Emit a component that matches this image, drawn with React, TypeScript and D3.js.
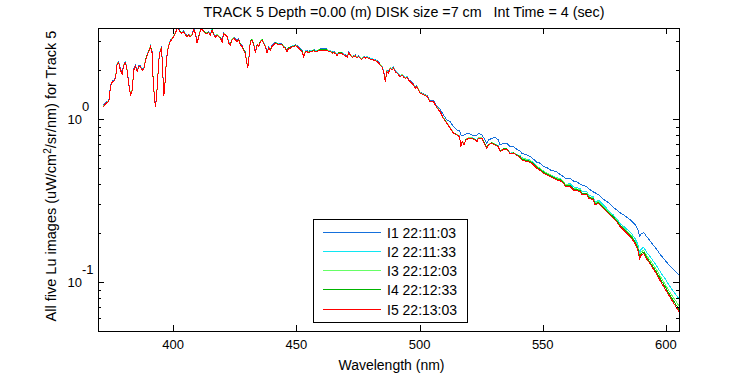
import React from 'react';
import * as d3 from 'd3';

const wavelength = [
371.5,373.0,373.9,374.6,375.3,375.9,376.6,377.3,377.9,378.6,
379.3,380.0,380.7,381.3,382.0,382.7,383.4,384.0,384.7,385.4,
386.1,386.7,387.4,388.1,388.8,389.5,390.1,390.8,391.5,391.9,
392.5,392.9,393.5,394.2,394.8,395.3,395.8,396.2,396.6,397.2,
397.8,398.5,399.3,400.2,400.9,401.6,402.3,403.0,403.6,404.3,
405.0,405.7,406.3,407.0,407.7,408.4,409.0,409.7,410.4,411.1,
411.8,412.4,413.1,413.8,414.4,415.1,415.8,416.5,417.2,417.8,
418.5,419.2,419.9,420.5,421.2,421.9,422.6,423.2,423.9,424.6,
425.3,425.9,426.6,427.3,428.0,428.6,429.3,429.7,430.3,430.8,
431.3,432.0,432.7,433.4,434.1,434.7,435.4,436.1,436.8,437.4,
438.1,438.8,439.5,440.1,440.8,441.5,442.2,442.8,443.5,444.2,
444.9,445.5,446.2,446.9,447.6,448.3,448.9,449.6,450.3,450.9,
451.6,452.3,453.0,453.7,454.3,455.0,455.7,456.4,457.0,457.7,
458.4,459.0,459.7,461.1,462.4,463.1,463.8,464.5,465.1,465.8,
466.5,467.2,467.8,468.5,469.2,469.9,470.6,471.2,471.9,472.6,
473.2,473.9,474.6,475.3,475.9,476.6,477.3,478.0,478.6,479.3,
480.0,480.7,481.3,482.0,482.7,483.4,484.0,484.7,485.4,486.1,
486.7,487.4,488.1,488.8,489.4,490.1,490.8,491.5,492.2,492.9,
493.5,494.2,494.9,495.5,496.2,497.6,498.3,498.9,500.3,501.7,
503.0,504.3,
505.7,507.1,508.4,509.7,511.1,512.4,513.8,515.2,516.2,516.8,
517.3,518.1,518.8,519.9,521.2,522.6,523.3,523.9,525.3,526.6,
527.3,528.0,529.3,530.7,532.0,532.7,534.1,535.4,536.8,538.1,
539.5,540.9,541.5,543.6,544.9,546.2,547.6,549.0,550.3,551.7,
553.0,554.3,555.7,557.0,558.4,559.1,561.1,562.5,563.8,565.2,
565.9,567.9,568.6,570.6,571.2,572.6,574.0,575.3,576.6,578.7,
580.0,581.4,583.0,584.5,586.0,587.5,588.6,589.3,590.0,591.0,
592.0,593.5,595.0,596.5,598.0,599.5,601.0,602.5,604.0,605.3
];

const luI1 = [
1.21,1.28,1.30,1.61,1.72,1.72,1.80,2.24,2.25,2.03,
1.93,2.18,2.25,2.03,1.64,1.43,1.53,2.03,2.13,1.99,
2.13,2.13,2.03,2.06,2.34,2.51,2.64,2.83,2.58,1.72,
1.33,1.21,1.57,2.34,2.70,2.77,1.95,1.40,1.61,2.24,
2.70,2.97,3.11,3.25,3.41,3.65,3.57,3.44,3.41,3.49,
3.33,3.25,3.33,3.25,3.33,3.57,3.41,2.97,3.25,3.57,
3.60,3.49,3.41,3.41,3.44,3.33,3.57,3.33,3.23,3.33,
3.25,3.18,3.03,3.38,3.33,3.25,2.97,2.90,3.11,3.18,
3.11,3.03,3.11,2.90,2.83,2.70,2.58,2.34,2.09,2.45,
3.03,3.11,2.90,2.58,2.90,2.83,3.03,3.11,2.94,2.83,
2.58,2.77,2.70,2.83,2.90,2.97,2.94,2.90,2.90,2.90,
2.81,2.77,2.64,2.77,2.77,2.83,2.83,2.86,2.83,2.77,
2.70,2.64,2.45,2.64,2.64,2.60,2.64,2.64,2.68,2.64,
2.64,2.68,2.70,2.70,2.70,2.64,2.64,2.58,2.60,2.58,
2.48,2.58,2.58,2.58,2.51,2.48,2.43,2.58,2.51,2.43,
2.45,2.48,2.40,2.45,2.40,2.36,2.43,2.40,2.43,2.40,
2.36,2.36,2.34,2.32,2.29,2.24,2.18,2.13,1.99,1.72,
1.99,1.95,2.09,2.03,2.09,1.99,1.95,1.90,1.85,1.90,
1.85,1.80,1.84,1.76,1.72,1.64,1.57,1.61,1.46,1.43,
1.40,1.30,
1.30,1.20,1.15,1.06,0.990,0.967,0.900,0.860,0.850,0.800,
0.800,0.800,0.810,0.820,0.800,0.800,0.800,0.820,0.800,0.746,
0.713,0.746,0.764,0.776,0.746,0.696,0.713,0.713,0.680,0.679,
0.655,0.635,0.619,0.604,0.590,0.570,0.545,0.537,0.512,0.505,
0.489,0.482,0.477,0.458,0.445,0.434,0.434,0.418,0.412,0.400,
0.395,0.386,0.375,0.358,0.354,0.345,0.328,0.318,0.308,0.288,
0.278,0.267,0.258,0.248,0.238,0.225,0.212,0.192,0.198,0.202,
0.192,0.180,0.168,0.157,0.146,0.137,0.129,0.122,0.116,0.111
];

const luI2 = [
1.20,1.27,1.29,1.60,1.71,1.71,1.79,2.23,2.24,2.02,
1.92,2.17,2.24,2.02,1.63,1.42,1.52,2.02,2.12,1.98,
2.12,2.12,2.02,2.05,2.33,2.50,2.63,2.82,2.57,1.71,
1.32,1.20,1.56,2.33,2.69,2.76,1.94,1.39,1.60,2.23,
2.69,2.96,3.10,3.24,3.40,3.64,3.56,3.43,3.40,3.48,
3.32,3.24,3.32,3.24,3.32,3.56,3.40,2.96,3.24,3.56,
3.59,3.48,3.40,3.40,3.43,3.32,3.56,3.32,3.22,3.32,
3.24,3.17,3.02,3.37,3.32,3.24,2.96,2.89,3.10,3.17,
3.10,3.02,3.10,2.89,2.82,2.69,2.57,2.33,2.08,2.44,
3.02,3.10,2.89,2.57,2.89,2.82,3.02,3.10,2.93,2.82,
2.57,2.76,2.69,2.82,2.89,2.96,2.93,2.89,2.89,2.89,
2.80,2.76,2.63,2.76,2.76,2.82,2.82,2.85,2.82,2.76,
2.69,2.63,2.44,2.63,2.63,2.59,2.63,2.63,2.67,2.63,
2.63,2.67,2.69,2.69,2.69,2.63,2.63,2.57,2.59,2.57,
2.47,2.57,2.57,2.57,2.50,2.47,2.42,2.57,2.50,2.42,
2.44,2.47,2.39,2.44,2.39,2.35,2.42,2.39,2.42,2.39,
2.35,2.35,2.33,2.31,2.28,2.23,2.17,2.12,1.98,1.71,
1.98,1.94,2.08,2.02,2.08,1.98,1.94,1.89,1.84,1.89,
1.84,1.79,1.83,1.75,1.71,1.63,1.56,1.60,1.45,1.42,
1.39,1.29,
1.29,1.18,1.12,1.02,0.955,0.890,0.828,0.808,0.790,0.686,
0.736,0.703,0.753,0.772,0.772,0.753,0.736,0.772,0.772,0.703,
0.671,0.703,0.720,0.703,0.686,0.639,0.662,0.662,0.618,0.625,
0.606,0.597,0.580,0.567,0.561,0.541,0.515,0.500,0.481,0.469,
0.458,0.447,0.437,0.433,0.417,0.398,0.403,0.385,0.381,0.376,
0.358,0.358,0.343,0.334,0.311,0.319,0.304,0.291,0.277,0.258,
0.246,0.229,0.219,0.209,0.199,0.185,0.171,0.152,0.160,0.164,
0.154,0.144,0.134,0.124,0.114,0.106,0.0974,0.0901,0.0841,0.0792
];

const luI3 = [
1.20,1.27,1.29,1.60,1.71,1.71,1.79,2.22,2.23,2.01,
1.91,2.16,2.23,2.01,1.63,1.42,1.52,2.01,2.11,1.97,
2.11,2.11,2.01,2.04,2.32,2.49,2.62,2.81,2.56,1.71,
1.32,1.20,1.56,2.32,2.68,2.75,1.93,1.39,1.60,2.22,
2.68,2.95,3.09,3.23,3.39,3.63,3.55,3.42,3.39,3.47,
3.31,3.23,3.31,3.23,3.31,3.55,3.39,2.95,3.23,3.55,
3.58,3.47,3.39,3.39,3.42,3.31,3.55,3.31,3.21,3.31,
3.23,3.16,3.01,3.36,3.31,3.23,2.95,2.88,3.09,3.16,
3.09,3.01,3.09,2.88,2.81,2.68,2.56,2.32,2.07,2.43,
3.01,3.09,2.88,2.56,2.88,2.81,3.01,3.09,2.92,2.81,
2.56,2.75,2.68,2.81,2.88,2.95,2.92,2.88,2.88,2.88,
2.79,2.75,2.62,2.75,2.75,2.81,2.81,2.84,2.81,2.75,
2.68,2.62,2.43,2.62,2.62,2.58,2.62,2.62,2.66,2.62,
2.62,2.66,2.68,2.68,2.68,2.62,2.62,2.56,2.58,2.56,
2.46,2.56,2.56,2.56,2.49,2.46,2.41,2.56,2.49,2.41,
2.43,2.46,2.38,2.43,2.38,2.34,2.41,2.38,2.41,2.38,
2.34,2.34,2.32,2.30,2.27,2.22,2.16,2.11,1.97,1.71,
1.97,1.93,2.07,2.01,2.07,1.97,1.93,1.88,1.83,1.88,
1.83,1.79,1.82,1.75,1.71,1.63,1.56,1.60,1.45,1.42,
1.39,1.29,
1.29,1.18,1.12,1.02,0.952,0.888,0.826,0.806,0.788,0.684,
0.735,0.701,0.752,0.770,0.770,0.752,0.735,0.770,0.770,0.701,
0.669,0.701,0.719,0.701,0.684,0.638,0.660,0.660,0.617,0.624,
0.605,0.595,0.577,0.564,0.559,0.538,0.513,0.497,0.479,0.466,
0.456,0.445,0.435,0.431,0.415,0.396,0.396,0.377,0.374,0.369,
0.352,0.352,0.336,0.328,0.305,0.313,0.298,0.285,0.272,0.253,
0.241,0.224,0.214,0.203,0.193,0.178,0.164,0.146,0.154,0.157,
0.147,0.137,0.127,0.117,0.107,0.098,0.090,0.0828,0.0767,0.0713
];

const luI4 = [
1.19,1.26,1.28,1.59,1.70,1.70,1.78,2.21,2.22,2.00,
1.90,2.15,2.22,2.00,1.62,1.41,1.51,2.00,2.10,1.96,
2.10,2.10,2.00,2.03,2.31,2.49,2.61,2.80,2.55,1.70,
1.31,1.19,1.55,2.31,2.67,2.74,1.92,1.38,1.59,2.21,
2.67,2.94,3.08,3.22,3.38,3.62,3.54,3.41,3.38,3.46,
3.30,3.22,3.30,3.22,3.30,3.54,3.38,2.94,3.22,3.54,
3.57,3.46,3.38,3.38,3.41,3.30,3.54,3.30,3.20,3.30,
3.22,3.15,3.00,3.35,3.30,3.22,2.94,2.87,3.08,3.15,
3.08,3.00,3.08,2.87,2.80,2.67,2.55,2.31,2.06,2.42,
3.00,3.08,2.87,2.55,2.87,2.80,3.00,3.08,2.91,2.80,
2.55,2.74,2.67,2.80,2.87,2.94,2.91,2.87,2.87,2.87,
2.78,2.74,2.61,2.74,2.74,2.80,2.80,2.83,2.80,2.74,
2.67,2.61,2.42,2.61,2.61,2.57,2.61,2.61,2.65,2.61,
2.61,2.65,2.67,2.67,2.67,2.61,2.61,2.55,2.57,2.55,
2.45,2.55,2.55,2.55,2.48,2.45,2.40,2.55,2.48,2.40,
2.42,2.45,2.37,2.42,2.37,2.33,2.40,2.37,2.40,2.37,
2.33,2.33,2.31,2.29,2.26,2.21,2.15,2.10,1.96,1.70,
1.96,1.92,2.06,2.00,2.06,1.96,1.92,1.87,1.82,1.87,
1.82,1.78,1.81,1.74,1.70,1.62,1.55,1.59,1.44,1.41,
1.38,1.28,
1.28,1.17,1.11,1.01,0.949,0.885,0.823,0.803,0.785,0.682,
0.732,0.699,0.749,0.767,0.767,0.749,0.732,0.767,0.767,0.699,
0.667,0.699,0.716,0.699,0.682,0.636,0.658,0.658,0.615,0.622,
0.603,0.589,0.571,0.558,0.553,0.533,0.508,0.492,0.474,0.462,
0.452,0.441,0.430,0.426,0.411,0.392,0.392,0.374,0.370,0.365,
0.348,0.348,0.333,0.325,0.302,0.310,0.295,0.282,0.269,0.251,
0.239,0.222,0.212,0.201,0.190,0.176,0.161,0.143,0.150,0.153,
0.143,0.133,0.123,0.113,0.103,0.0948,0.0865,0.0793,0.0731,0.068
];

const luI5 = [
1.19,1.26,1.28,1.59,1.70,1.70,1.78,2.21,2.22,2.00,
1.90,2.15,2.22,2.00,1.62,1.41,1.51,2.00,2.10,1.96,
2.10,2.10,2.00,2.03,2.31,2.48,2.60,2.79,2.54,1.70,
1.31,1.19,1.55,2.31,2.66,2.73,1.92,1.38,1.59,2.21,
2.66,2.93,3.07,3.21,3.37,3.61,3.53,3.40,3.37,3.45,
3.29,3.21,3.29,3.21,3.29,3.53,3.37,2.93,3.21,3.53,
3.56,3.45,3.37,3.37,3.40,3.29,3.53,3.29,3.19,3.29,
3.21,3.14,2.99,3.34,3.29,3.21,2.93,2.86,3.07,3.14,
3.07,2.99,3.07,2.86,2.79,2.66,2.54,2.31,2.06,2.42,
2.99,3.07,2.86,2.54,2.86,2.79,2.99,3.07,2.90,2.79,
2.54,2.73,2.66,2.79,2.86,2.93,2.90,2.86,2.86,2.86,
2.77,2.73,2.60,2.73,2.73,2.79,2.79,2.82,2.79,2.73,
2.66,2.60,2.42,2.60,2.60,2.56,2.60,2.60,2.64,2.60,
2.60,2.64,2.66,2.66,2.66,2.60,2.60,2.54,2.56,2.54,
2.45,2.54,2.54,2.54,2.48,2.45,2.40,2.54,2.48,2.40,
2.42,2.45,2.37,2.42,2.37,2.33,2.40,2.37,2.40,2.37,
2.33,2.33,2.31,2.29,2.26,2.21,2.15,2.10,1.96,1.70,
1.96,1.92,2.06,2.00,2.06,1.96,1.92,1.87,1.82,1.87,
1.82,1.78,1.81,1.74,1.70,1.62,1.55,1.59,1.44,1.41,
1.38,1.28,
1.28,1.17,1.11,1.01,0.945,0.881,0.820,0.800,0.782,0.679,
0.729,0.696,0.746,0.764,0.764,0.746,0.729,0.764,0.764,0.696,
0.664,0.696,0.713,0.696,0.679,0.633,0.655,0.655,0.612,0.619,
0.600,0.580,0.563,0.550,0.545,0.525,0.500,0.485,0.467,0.455,
0.445,0.434,0.424,0.420,0.405,0.386,0.386,0.368,0.365,0.360,
0.343,0.343,0.328,0.320,0.298,0.305,0.291,0.278,0.265,0.247,
0.235,0.219,0.208,0.197,0.186,0.172,0.158,0.140,0.147,0.150,
0.140,0.130,0.120,0.110,0.100,0.092,0.084,0.077,0.071,0.066
];

const seriesLabels = ['I1 22:11:03', 'I2 22:11:33', 'I3 22:12:03', 'I4 22:12:33', 'I5 22:13:03'];
const seriesValues = [luI1, luI2, luI3, luI4, luI5];
const seriesColors = ['#1570dc', '#10e6f2', '#66ff66', '#00b400', '#ff0000'];

const xTicks = [400, 450, 500, 550, 600];
const yMajorTicks = [0.1, 1];
const yMajorExponents = ['-1', '0'];
const yMinorTicks = [0.06, 0.07, 0.08, 0.09, 0.2, 0.3, 0.4, 0.5, 0.6, 0.7, 0.8, 0.9, 2, 3];
const xDomain = [369.5, 605.3];
const yDomain = [0.0502, 3.63];

const titleText = 'TRACK 5 Depth =0.00 (m) DISK size =7 cm   Int Time = 4 (sec)';
const xLabelText = 'Wavelength (nm)';

const FONT = "'Liberation Sans', Arial, Helvetica, sans-serif";

export default function App() {
  const W = 750, H = 375;
  const left = 98, right = 679, top = 28, bottom = 331;
  const x = d3.scaleLinear().domain(xDomain).range([left, right]);
  const y = d3.scaleLog().domain(yDomain).range([bottom, top]);

  const makeLine = (vals: number[]) =>
    d3.line<number>()
      .x((_, i) => x(wavelength[i]))
      .y((d) => y(d))(vals) || '';

  const cx = (left + right) / 2;
  const majorLen = 6, minorLen = 3;

  // legend layout
  const lgX = 313, lgY = 219, lgW = 154, lgH = 103;
  const rowStep = 19.3;
  const row0 = lgY + 12.5;

  return (
    <svg width={W} height={H} style={{ position: 'absolute', left: 0, top: 0, background: '#fff' }}
      fontFamily={FONT}>
      <rect x={0} y={0} width={W} height={H} fill="#fff" />
      <defs>
        <clipPath id="plotClip">
          <rect x={left} y={top} width={right - left} height={bottom - top} />
        </clipPath>
      </defs>

      <g clipPath="url(#plotClip)">
        {seriesValues.map((vals, k) => (
          <path key={k} d={makeLine(vals)} fill="none" stroke={seriesColors[k]} strokeWidth={1}
            shapeRendering="crispEdges" />
        ))}
      </g>

      {/* axes box */}
      <g stroke="#000" strokeWidth={1} shapeRendering="crispEdges" fill="none">
        <rect x={left + 0.5} y={top + 0.5} width={right - left} height={bottom - top} />
        {xTicks.map((t) => (
          <g key={t}>
            <line x1={Math.round(x(t)) + 0.5} x2={Math.round(x(t)) + 0.5} y1={bottom} y2={bottom - majorLen} />
            <line x1={Math.round(x(t)) + 0.5} x2={Math.round(x(t)) + 0.5} y1={top} y2={top + majorLen} />
          </g>
        ))}
        {yMajorTicks.map((t) => (
          <g key={t}>
            <line x1={left} x2={left + majorLen} y1={Math.round(y(t)) + 0.5} y2={Math.round(y(t)) + 0.5} />
            <line x1={right} x2={right - majorLen} y1={Math.round(y(t)) + 0.5} y2={Math.round(y(t)) + 0.5} />
          </g>
        ))}
        {yMinorTicks.map((t) => (
          <g key={t}>
            <line x1={left} x2={left + minorLen} y1={Math.round(y(t)) + 0.5} y2={Math.round(y(t)) + 0.5} />
            <line x1={right} x2={right - minorLen} y1={Math.round(y(t)) + 0.5} y2={Math.round(y(t)) + 0.5} />
          </g>
        ))}
      </g>

      {/* x tick labels */}
      <g fontSize={13} textAnchor="middle" fill="#000">
        {xTicks.map((t) => (
          <text key={t} x={x(t)} y={348.5}>{t}</text>
        ))}
      </g>

      {/* y tick labels */}
      <g fill="#000">
        {yMajorTicks.map((t, i) => (
          <g key={t}>
            <text x={82} y={y(t) + 5} fontSize={13} textAnchor="end">10</text>
            <text x={82} y={y(t) - 8.5} fontSize={13} textAnchor="start">{yMajorExponents[i]}</text>
          </g>
        ))}
      </g>

      {/* title */}
      <text x={404} y={17} fontSize={14.3} textAnchor="middle" fill="#000" style={{ whiteSpace: 'pre' }}
        xmlSpace="preserve">{titleText}</text>

      {/* x label */}
      <text x={cx + 3} y={370} fontSize={14} textAnchor="middle" fill="#000">{xLabelText}</text>

      {/* y label */}
      <text transform={`translate(56, 176) rotate(-90)`} fontSize={14.5} textAnchor="middle" fill="#000">
        All five Lu images (uW/cm<tspan dy={-5} fontSize={10}>2</tspan><tspan dy={5}>/sr/nm) for Track 5</tspan>
      </text>

      {/* legend */}
      <g>
        <rect x={lgX + 0.5} y={lgY + 0.5} width={lgW} height={lgH} fill="#fff" stroke="#000" strokeWidth={1}
          shapeRendering="crispEdges" />
        {seriesLabels.map((lab, k) => {
          const ry = Math.round(row0 + k * rowStep) + 0.5;
          return (
            <g key={lab}>
              <line x1={lgX + 10} x2={lgX + 68} y1={ry} y2={ry} stroke={seriesColors[k]} strokeWidth={1}
                shapeRendering="crispEdges" />
              <text x={lgX + 74} y={ry + 5} fontSize={14} fill="#000">{lab}</text>
            </g>
          );
        })}
      </g>
    </svg>
  );
}
